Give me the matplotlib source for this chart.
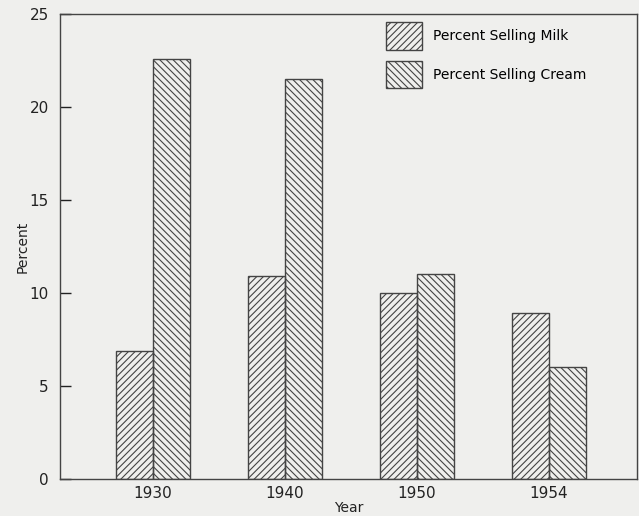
import matplotlib.pyplot as plt
import numpy as np

# data
years = ['1930', '1940', '1950', '1954']
milk = [6.9, 10.9, 10.0, 8.9]
cream = [22.6, 21.5, 11.0, 6.0]

plt.rcParams['hatch.linewidth'] = 0.8
plt.rcParams['hatch.color'] = '#333333'

fig = plt.figure(figsize=(6.39, 5.16), dpi=100, facecolor='#efefed')
ax = fig.add_axes([60 / 639, 37 / 516, 577 / 639, 465 / 516])
ax.set_facecolor('#efefed')

x = np.arange(len(years))
w = 0.28
ax.bar(x - w / 2, milk, w, facecolor='none', edgecolor='#444444',
       hatch='/////', linewidth=1.0, label='Percent Selling Milk')
ax.bar(x + w / 2, cream, w, facecolor='none', edgecolor='#444444',
       hatch='\\\\\\\\\\', linewidth=1.0, label='Percent Selling Cream')

ax.set_xlim(-0.705, 3.667)
ax.set_ylim(0, 25)
ax.set_yticks([0, 5, 10, 15, 20, 25])
ax.set_xticks(x)
ax.set_xticklabels(years)
ax.tick_params(axis='y', direction='in', length=8, width=1, pad=8,
               labelsize=11, colors='#222222')
ax.tick_params(axis='x', length=0, pad=5, labelsize=11, colors='#222222')
for s in ax.spines.values():
    s.set_color('#444444')
    s.set_linewidth(1.0)

ax.set_xlabel('Year', fontsize=10, color='#222222', labelpad=0)
ax.set_ylabel('Percent', fontsize=10, color='#222222', labelpad=0)

ax.legend(loc='upper left', bbox_to_anchor=(0.55, 1.0), frameon=False,
          fontsize=10, handlelength=2.6, handleheight=2.7, labelspacing=0.75,
          handletextpad=0.8, borderaxespad=0.2)

plt.savefig('out.png', dpi=100, facecolor=fig.get_facecolor())
